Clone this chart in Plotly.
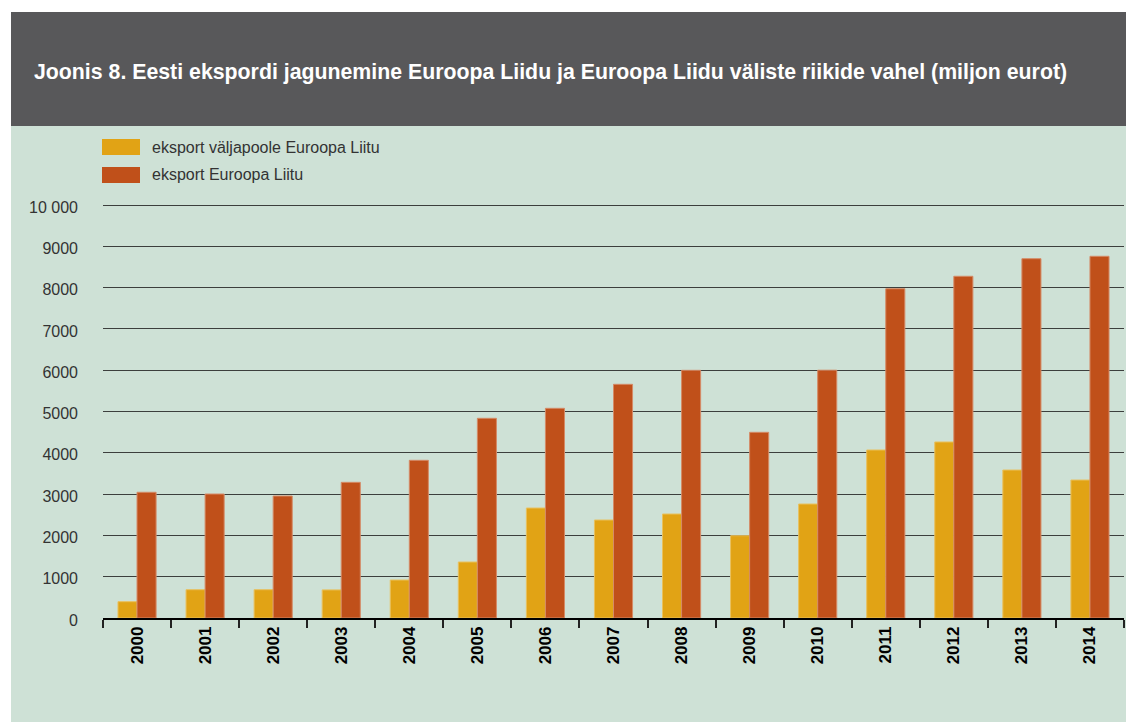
import plotly.graph_objects as go

years = ["2000", "2001", "2002", "2003", "2004", "2005", "2006", "2007",
         "2008", "2009", "2010", "2011", "2012", "2013", "2014"]
outside_eu = [395, 685, 685, 680, 920, 1356, 2663, 2373, 2518, 1993,
              2760, 4068, 4262, 3583, 3341]
inside_eu = [3044, 3002, 2954, 3285, 3818, 4835, 5077, 5658, 5997, 4496,
             6000, 7973, 8274, 8700, 8758]
series_names = ["eksport väljapoole Euroopa Liitu", "eksport Euroopa Liitu"]
y_tickvals = [0, 1000, 2000, 3000, 4000, 5000, 6000, 7000, 8000, 9000, 10000]
y_ticktext = ["0", "1000", "2000", "3000", "4000", "5000", "6000", "7000",
              "8000", "9000", "10 000"]
title_text = ("Joonis 8. Eesti ekspordi jagunemine Euroopa Liidu ja Euroopa "
              "Liidu väliste riikide vahel (miljon eurot)")

YELLOW = "#E1A315"
RED = "#C0501A"
GREEN_BG = "#CEE1D6"
HEADER = "#58585A"
FONT = "Liberation Sans, Arial, sans-serif"

OFF = 8  # page body margin
WIN_W, WIN_H = 1134, 722
W, H = WIN_W - OFF, WIN_H - OFF

# plot area in window pixels
L_WIN, R_WIN, T_WIN, B_WIN = 103, 1124, 205, 618
L, R_PX, B_PX = L_WIN - OFF, R_WIN - OFF, B_WIN - OFF
T_PX = T_WIN - OFF - 2  # a touch of headroom so the 10 000 gridline shows
px_per_unit = (B_WIN - T_WIN) / 10000.0
y_max = 10000 + 2 / px_per_unit


def px_x(px_win):
    return (px_win - OFF - L) / (R_PX - L)


def px_y(py_win):
    return (B_PX - (py_win - OFF)) / (B_PX - T_PX)


fig = go.Figure()
fig.add_trace(go.Bar(x=years, y=outside_eu, name=series_names[0],
                     marker=dict(color=YELLOW, line=dict(color="#E9C15E", width=1)),
                     showlegend=False))
fig.add_trace(go.Bar(x=years, y=inside_eu, name=series_names[1],
                     marker=dict(color=RED, line=dict(color="#D58A66", width=1)),
                     showlegend=False))

shapes = [
    dict(type="rect", xref="paper", yref="paper", x0=px_x(11), x1=px_x(1140),
         y0=px_y(730), y1=px_y(12), fillcolor=GREEN_BG, line=dict(width=0),
         layer="below"),
    dict(type="rect", xref="paper", yref="paper", x0=px_x(11), x1=px_x(1140),
         y0=px_y(126), y1=px_y(12), fillcolor=HEADER, line=dict(width=0),
         layer="below"),
    dict(type="rect", xref="paper", yref="paper", x0=px_x(102), x1=px_x(140),
         y0=px_y(155), y1=px_y(139), fillcolor=YELLOW, line=dict(width=0)),
    dict(type="rect", xref="paper", yref="paper", x0=px_x(102), x1=px_x(140),
         y0=px_y(183), y1=px_y(167), fillcolor=RED, line=dict(width=0)),
]

annotations = [
    dict(text="<b>" + title_text + "</b>", xref="paper", yref="paper",
         x=px_x(32), y=px_y(72), xanchor="left", yanchor="middle",
         showarrow=False, font=dict(family=FONT, size=21.3, color="white")),
    dict(text=series_names[0], xref="paper", yref="paper",
         x=px_x(150), y=px_y(147), xanchor="left", yanchor="middle",
         showarrow=False, font=dict(family=FONT, size=16, color="#333333")),
    dict(text=series_names[1], xref="paper", yref="paper",
         x=px_x(150), y=px_y(175), xanchor="left", yanchor="middle",
         showarrow=False, font=dict(family=FONT, size=16, color="#333333")),
]

fig.update_layout(
    width=W, height=H,
    margin=dict(l=L, r=W - R_PX, t=T_PX, b=H - B_PX, pad=0),
    paper_bgcolor="white",
    plot_bgcolor="rgba(0,0,0,0)",
    barmode="group",
    bargap=0.44,
    bargroupgap=0,
    shapes=shapes,
    annotations=annotations,
    font=dict(family=FONT, color="#333333"),
    xaxis=dict(
        type="category",
        showgrid=False,
        showline=True, linecolor="black", linewidth=1.5,
        ticks="outside", tickson="boundaries", ticklen=8,
        tickcolor="#222222", tickwidth=1.5,
        tickangle=-90,
        tickfont=dict(family=FONT, size=17, color="black", weight="bold"),
    ),
    yaxis=dict(
        range=[0, y_max],
        tickvals=y_tickvals, ticktext=y_ticktext,
        showgrid=True, gridcolor="#3c3f3d", gridwidth=1.4,
        zeroline=False, showline=False,
        ticks="", ticklabelstandoff=24, ticklabelshift=2,
        tickfont=dict(family=FONT, size=16, color="#333333"),
    ),
)

fig.write_html("out.html")
